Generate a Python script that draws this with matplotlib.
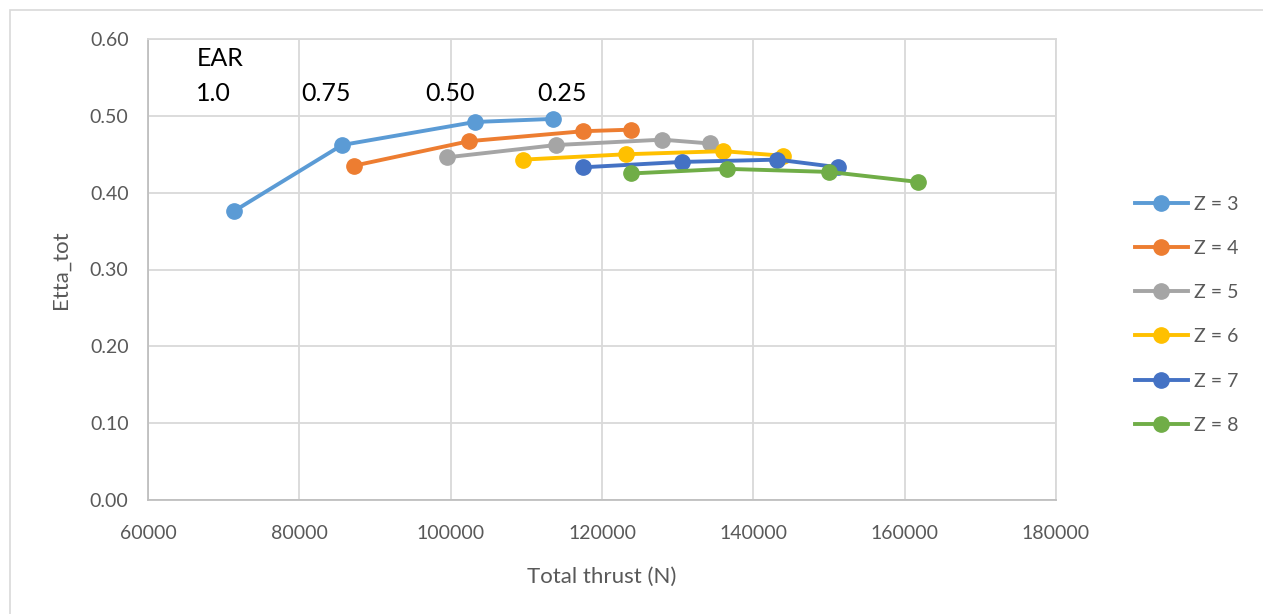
import matplotlib
matplotlib.use("Agg")
import matplotlib.pyplot as plt
from matplotlib.patches import Rectangle

############### Data
z3_x = [71370, 85640, 103200, 113500]
z3_y = [0.376, 0.462, 0.492, 0.496]
z4_x = [87190, 102430, 117540, 123810]
z4_y = [0.435, 0.467, 0.480, 0.482]
z5_x = [99520, 113930, 127990, 134290]
z5_y = [0.446, 0.462, 0.469, 0.464]
z6_x = [109610, 123190, 136050, 143980]
z6_y = [0.443, 0.450, 0.454, 0.448]
z7_x = [117460, 130550, 143190, 151250]
z7_y = [0.433, 0.440, 0.443, 0.433]
z8_x = [123850, 136500, 150020, 161740]
z8_y = [0.425, 0.431, 0.427, 0.414]

labels = ["Z = 3", "Z = 4", "Z = 5", "Z = 6", "Z = 7", "Z = 8"]
colors = ["#5B9BD5", "#ED7D31", "#A5A5A5", "#FFC000", "#4472C4", "#70AD47"]

ear_labels = ["1.0", "0.75", "0.50", "0.25"]
ear_x = [66400, 80200, 96600, 111400]

x_ticks = [60000, 80000, 100000, 120000, 140000, 160000, 180000]
y_ticks = [0.0, 0.1, 0.2, 0.3, 0.4, 0.5, 0.6]

############### Figure
plt.rcParams['font.family'] = ['Lato', 'DejaVu Sans']
fig = plt.figure(figsize=(12.63, 6.14), dpi=100)
W, H = 1263, 614
ax = fig.add_axes([148 / W, (H - 500) / H, (1056 - 148) / W, (500 - 39) / H])

# chart border
fig.patches.append(Rectangle((10 / W, -0.1), 1.2, (H - 10) / H + 0.1,
                             transform=fig.transFigure, fill=False,
                             edgecolor="#D9D9D9", linewidth=1.2))

series = [(z3_x, z3_y), (z4_x, z4_y), (z5_x, z5_y),
          (z6_x, z6_y), (z7_x, z7_y), (z8_x, z8_y)]
for (xs, ys), lab, col in zip(series, labels, colors):
    ax.plot(xs, ys, color=col, linewidth=2.8, marker='o', markersize=11,
            label=lab, zorder=3)

ax.set_xlim(60000, 180000)
ax.set_ylim(0, 0.6)
ax.set_xticks(x_ticks)
ax.set_yticks(y_ticks)
ax.set_yticklabels(["%.2f" % v for v in y_ticks])
ax.grid(True, color="#D9D9D9", linewidth=1.3, zorder=0)
ax.tick_params(length=0, labelsize=14, colors="#595959")
ax.tick_params(axis='x', pad=18)
ax.tick_params(axis='y', pad=14)
for s in ["top", "right"]:
    ax.spines[s].set_color("#D9D9D9")
    ax.spines[s].set_linewidth(1.3)
for s in ["left", "bottom"]:
    ax.spines[s].set_color("#BFBFBF")
    ax.spines[s].set_linewidth(1.3)

ax.set_xlabel("Total thrust (N)", fontsize=16, color="#595959", labelpad=18)
ax.set_ylabel("Etta_tot", fontsize=16, color="#595959", labelpad=14)

############### EAR annotation
ax.text(ear_x[0], 0.575, "EAR", fontsize=18, va="center", ha="left")
for lab, xv in zip(ear_labels, ear_x):
    ax.text(xv, 0.529, lab, fontsize=18, va="center", ha="left")

############### Legend
ax.legend(loc="center left", bbox_to_anchor=(1.068, 0.402), frameon=False,
          fontsize=14, labelcolor="#595959", handlelength=2.7,
          handletextpad=0.3, labelspacing=1.4)

fig.savefig("out.png", dpi=100)
